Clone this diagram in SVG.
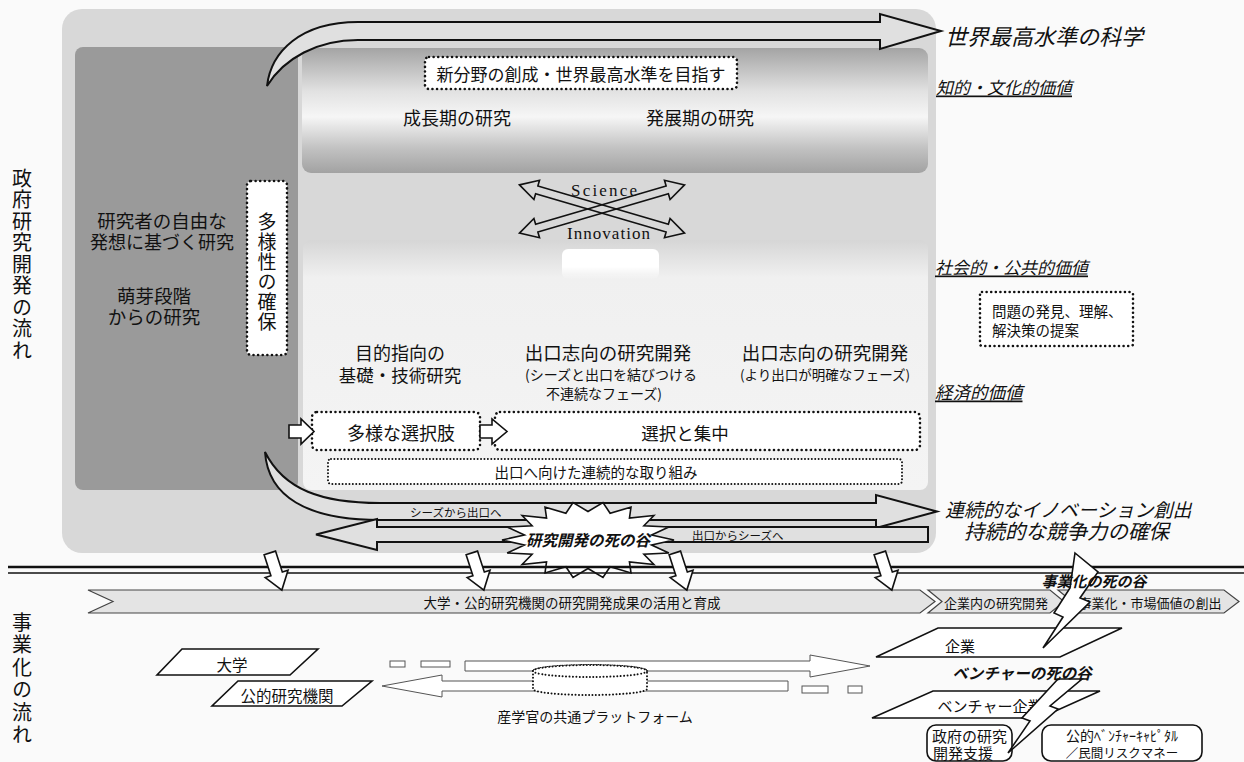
<svg xmlns="http://www.w3.org/2000/svg" width="1244" height="762" viewBox="0 0 1244 762">
<defs>
<linearGradient id="gTop" x1="0" y1="0" x2="0" y2="1">
<stop offset="0" stop-color="#a4a4a4"/>
<stop offset="0.35" stop-color="#e2e2e2"/>
<stop offset="0.55" stop-color="#f6f6f6"/>
<stop offset="0.8" stop-color="#c2c2c2"/>
<stop offset="1" stop-color="#a2a2a2"/>
</linearGradient>
<linearGradient id="gMid" x1="0" y1="0" x2="0" y2="1">
<stop offset="0" stop-color="#d6d6d6"/>
<stop offset="0.15" stop-color="#f0f0f0"/>
<stop offset="1" stop-color="#f4f4f4"/>
</linearGradient>
<linearGradient id="gWhite" x1="0" y1="0" x2="0" y2="1">
<stop offset="0" stop-color="#ffffff"/>
<stop offset="0.6" stop-color="#ffffff"/>
<stop offset="1" stop-color="#ffffff" stop-opacity="0"/>
</linearGradient>
</defs>
<style>
text { font-family: "Noto Sans CJK JP", "Noto Sans CJK SC", sans-serif; fill: #111; dominant-baseline: central; }
.m { text-anchor: middle; }
.v { writing-mode: vertical-rl; text-anchor: start; }
.it { font-style: italic; }
.bi { font-style: italic; font-weight: bold; }
.u { text-decoration: underline; }
.dot { fill: #fff; stroke: #111; stroke-width: 2.6; stroke-dasharray: 0.01 4.6; stroke-linecap: round; }
.dotf { fill: #fff; stroke: #111; stroke-width: 2; stroke-dasharray: 0.01 3.4; stroke-linecap: round; }
.hollow { fill: #fff; stroke: #111; stroke-width: 1.6; }
.big { fill: #e0e0e0; stroke: #111; stroke-width: 2; }
.pg { fill: #fff; stroke: #111; stroke-width: 1.6; }
.thin { fill: #fff; stroke: #555; stroke-width: 1; }
.chev { fill: #e4e4e4; stroke: #444; stroke-width: 1.2; }
.bolt { fill: #fff; stroke: #111; stroke-width: 1.6; stroke-linejoin: miter; }
.sci { font-family: "Liberation Serif", serif; font-size: 17px; dominant-baseline: alphabetic; }
</style>
<rect width="1244" height="762" fill="#fafafa"/>

<!-- panels -->
<g id="panel-outer"><rect x="62" y="9" width="874" height="544" rx="20" fill="#d8d8d8"/></g>
<g id="panel-free-research">
<rect x="75" y="47" width="223" height="443" rx="8" fill="#9a9a9a"/>
<text class="m" x="162" y="220" font-size="18.5">研究者の自由な</text>
<text class="m" x="162" y="241" font-size="18">発想に基づく研究</text>
<text class="m" x="154" y="295" font-size="18.5">萌芽段階</text>
<text class="m" x="154" y="316" font-size="18.5">からの研究</text>
</g>
<g id="panel-growth">
<rect x="302" y="48" width="626" height="125" rx="9" fill="url(#gTop)"/>
<text class="m" x="457" y="117" font-size="18">成長期の研究</text>
<text class="m" x="700" y="117" font-size="18">発展期の研究</text>
</g>
<g id="panel-middle">
<rect x="303" y="240" width="625" height="250" rx="8" fill="url(#gMid)"/>
<rect x="562" y="249" width="97" height="30" rx="6" fill="url(#gWhite)"/>
</g>

<!-- side labels -->
<g id="label-gov">
<text class="v" x="22" y="168" font-size="20" letter-spacing="1.5">政府研究開発の流れ</text>
</g>
<g id="label-biz">
<text class="v" x="22" y="612" font-size="20" letter-spacing="2.5">事業化の流れ</text>
</g>

<!-- connectors -->
<g id="connectors">
<path class="big" d="M267,86 C271,52 300,22 358,22 L880,22 L880,14 L941,31 L880,49 L880,40 L358,40 C318,40 284,58 267,86 Z"/>
<path class="big" d="M265,452 C284,490 322,503 380,503 L876,503 L876,495 L937,511.5 L876,528 L876,520 L380,520 C306,520 268,496 265,452 Z"/>
<path class="big" d="M316,534.5 L377,519 L377,527 L928,527 L928,542 L377,542 L377,550 Z"/>
<polygon points="-86,0 -68,-10 -68,-4 68,-4 68,-10 86,0 68,10 68,4 -68,4 -68,10" fill="none" stroke="#111" stroke-width="1.6" transform="translate(602,209) rotate(16.3)"/>
<polygon points="-86,0 -68,-10 -68,-4 68,-4 68,-10 86,0 68,10 68,4 -68,4 -68,10" fill="none" stroke="#111" stroke-width="1.6" transform="translate(602,209) rotate(-16.3)"/>
</g>
<text class="sci" x="571" y="196" textLength="66" lengthAdjust="spacing">Science</text>
<text class="sci" x="567" y="239" textLength="83" lengthAdjust="spacing">Innovation</text>
<text x="410" y="511.5" font-size="11.5">シーズから出口へ</text>
<text x="692" y="534.5" font-size="11.5">出口からシーズへ</text>

<!-- boxes -->
<g id="box-goal">
<rect class="dot" x="425" y="57" width="312" height="32" rx="4"/>
<text class="m" x="581" y="73" font-size="17">新分野の創成・世界最高水準を目指す</text>
</g>
<g id="box-diversity">
<rect class="dot" x="247" y="181" width="40" height="174" rx="4"/>
<text class="v" x="267" y="212.5" font-size="19" letter-spacing="1">多様性の確保</text>
</g>
<g id="col-basic">
<text class="m" x="400" y="352" font-size="18">目的指向の</text>
<text class="m" x="400" y="374" font-size="17.5">基礎・技術研究</text>
</g>
<g id="col-exit1">
<text class="m" x="608" y="352" font-size="18.5">出口志向の研究開発</text>
<text class="m" x="611" y="374" font-size="14">(シーズと出口を結びつける</text>
<text class="m" x="604" y="393" font-size="14">不連続なフェーズ)</text>
</g>
<g id="col-exit2">
<text class="m" x="825" y="352" font-size="18.5">出口志向の研究開発</text>
<text class="m" x="825" y="374" font-size="13.5">(より出口が明確なフェーズ)</text>
</g>
<g id="box-options">
<rect class="dot" x="312" y="412" width="168" height="38" rx="5"/>
<text class="m" x="401" y="432" font-size="18">多様な選択肢</text>
</g>
<g id="box-focus">
<rect class="dot" x="495" y="412" width="425" height="38" rx="5"/>
<text class="m" x="685" y="432" font-size="17.5">選択と集中</text>
</g>
<g id="small-arrows">
<polygon class="hollow" points="480,425 492,425 492,419 507,431.5 492,444 492,438 480,438"/>
<polygon class="hollow" points="289,425 301,425 301,419 314,431.5 301,444 301,438 289,438"/>
</g>
<g id="box-continuous">
<rect class="dotf" x="328" y="459" width="574" height="25" rx="3"/>
<text class="m" x="596" y="471.5" font-size="14.5">出口へ向けた連続的な取り組み</text>
</g>

<g id="burst-rd">
<polygon points="100,0 73.9,13.1 94,34.2 65,37.5 76.6,64.3 48.2,57.5 50,86.6 25.7,70.5 17.4,98.5 0,75 -17.4,98.5 -25.7,70.5 -50,86.6 -48.2,57.5 -76.6,64.3 -65,37.5 -94,34.2 -73.9,13.1 -100,0 -73.9,-13.1 -94,-34.2 -65,-37.5 -76.6,-64.3 -48.2,-57.5 -50,-86.6 -25.7,-70.5 -17.4,-98.5 0,-75 17.4,-98.5 25.7,-70.5 50,-86.6 48.2,-57.5 76.6,-64.3 65,-37.5 94,-34.2 73.9,-13.1" fill="#fff" stroke="#111" stroke-width="1.6" vector-effect="non-scaling-stroke" transform="translate(588,540) scale(0.86,0.38)"/>
<text class="m bi" x="588" y="539" font-size="15.5">研究開発の死の谷</text>
</g>

<!-- values -->
<g id="value-science">
<text class="it" x="945" y="35" font-size="22">世界最高水準の科学</text>
<text class="it u" x="936" y="86" font-size="17">知的・文化的価値</text>
</g>
<g id="value-social">
<text class="it u" x="935" y="266" font-size="17">社会的・公共的価値</text>
<rect class="dot" x="980" y="292" width="153" height="54" rx="2"/>
<text x="992" y="310" font-size="14.5">問題の発見、理解、</text>
<text x="992" y="329" font-size="14.5">解決策の提案</text>
</g>
<g id="value-econ">
<text class="it u" x="935" y="391" font-size="17.5">経済的価値</text>
</g>
<g id="value-innovation">
<text class="it" x="945" y="508" font-size="19">連続的なイノベーション創出</text>
<text class="it" x="964" y="530" font-size="20.5">持続的な競争力の確保</text>
</g>

<!-- separator -->
<g id="separator">
<line x1="8" y1="567" x2="1244" y2="567" stroke="#111" stroke-width="2.5"/>
<line x1="8" y1="573" x2="1244" y2="573" stroke="#111" stroke-width="1.4"/>
</g>

<!-- business banner -->
<g id="banner-results">
<path class="chev" d="M88,590 L920,590 L935,601.5 L920,613 L88,613 L113,601.5 Z"/>
<text class="m" x="572" y="602" font-size="13.5">大学・公的研究機関の研究開発成果の活用と育成</text>
</g>
<g id="banner-inhouse">
<path class="chev" d="M928,590 L1050,590 L1064,601.5 L1050,613 L928,613 L942,601.5 Z"/>
<text class="m" x="996" y="602" font-size="13">企業内の研究開発</text>
</g>
<g id="banner-market">
<path class="chev" d="M1058,590 L1224,590 L1239,601.5 L1224,613 L1058,613 L1072,601.5 Z"/>
<text class="m" x="1150" y="602" font-size="13">事業化・市場価値の創出</text>
</g>

<g id="down-arrows">
<polygon class="hollow" points="-6,-20 6,-20 6,2 12,2 0,19 -12,2 -6,2" transform="translate(276,572) rotate(-18)"/>
<polygon class="hollow" points="-6,-20 6,-20 6,2 12,2 0,19 -12,2 -6,2" transform="translate(478,572) rotate(-18)"/>
<polygon class="hollow" points="-6,-20 6,-20 6,2 12,2 0,19 -12,2 -6,2" transform="translate(681,572) rotate(-18)"/>
<polygon class="hollow" points="-6,-20 6,-20 6,2 12,2 0,19 -12,2 -6,2" transform="translate(886,572) rotate(-18)"/>
</g>

<g id="node-university">
<polygon class="pg" points="182,649 318,649 290,675 157,675"/>
<text class="m" x="232" y="664" font-size="15.5">大学</text>
</g>
<g id="node-public-inst">
<polygon class="pg" points="238,681 372,681 342,706 212,706"/>
<text class="m" x="287" y="695" font-size="15.5">公的研究機関</text>
</g>

<g id="platform">
<rect class="thin" x="390" y="661" width="15" height="6"/>
<rect class="thin" x="421" y="661" width="29" height="6"/>
<path class="thin" d="M465,661 L810,661 L810,655 L870,666 L810,677 L810,671 L465,671 Z"/>
<path class="thin" d="M382,686 L442,675 L442,681 L788,681 L788,691 L442,691 L442,697 Z"/>
<rect class="thin" x="802" y="686" width="26" height="7"/>
<rect class="thin" x="848" y="686" width="14" height="7"/>
<path class="dotf" d="M533,671 L533,689 A57,6 0 0 0 647,689 L647,671 A57,6 0 0 0 533,671 Z"/>
<ellipse class="dotf" cx="590" cy="671" rx="57" ry="6"/>
<text class="m" x="595" y="716" font-size="14">産学官の共通プラットフォーム</text>
</g>

<g id="node-company">
<polygon class="pg" points="938,628 1122,628 1060,657 876,657"/>
<text class="m" x="960" y="645" font-size="15">企業</text>
</g>
<g id="bolt-biz">
<polygon class="bolt" points="1075,553 1098,572 1080,598 1090,602 1043,648 1063,617 1054,613 1070,588"/>
<text class="m bi" x="1094" y="580" font-size="15">事業化の死の谷</text>
</g>
<g id="node-venture">
<polygon class="pg" points="933,691 1100,691 1040,718 872,718"/>
<text class="m" x="990" y="705" font-size="15">ベンチャー企業</text>
</g>
<g id="node-gov-support">
<rect class="pg" x="927" y="725" width="85" height="36" rx="9"/>
<text x="932" y="735" font-size="15">政府の研究</text>
<text x="933" y="752" font-size="15">開発支援</text>
</g>
<g id="node-vc">
<rect class="pg" x="1042" y="725" width="160" height="36" rx="9"/>
<text class="m" x="1122" y="735" font-size="14">公的ﾍﾞﾝﾁｬｰｷｬﾋﾟﾀﾙ</text>
<text class="m" x="1122" y="752" font-size="12.5">／民間リスクマネー</text>
</g>
<g id="bolt-venture">
<polygon class="bolt" points="1058,679 1082,679 1050,706 1058,709 1008,753 1030,721 1022,718"/>
<text class="m bi" x="1022" y="672" font-size="15.5">ベンチャーの死の谷</text>
</g>
</svg>
